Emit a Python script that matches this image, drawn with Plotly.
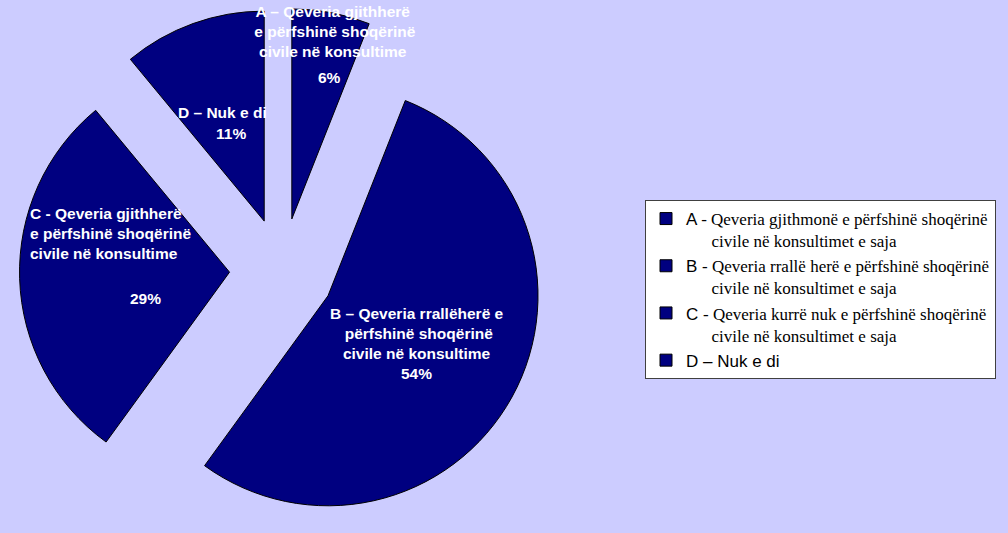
import plotly.graph_objects as go

# Survey answers: does the government include civil society in its consultations?
codes = ["A", "B", "C", "D"]
shares = [6, 54, 29, 11]
legend_names = [
    "A - Qeveria gjithmonë e përfshinë shoqërinë<br>civile në konsultimet e saja",
    "B - Qeveria rrallë herë e përfshinë shoqërinë<br>civile në konsultimet e saja",
    "C - Qeveria kurrë nuk e përfshinë shoqërinë<br>civile në konsultimet e saja",
    "D – Nuk e di",
]
slice_captions = [
    "A – Qeveria gjithherë<br> e përfshinë shoqërinë<br>civile në konsultime",
    "B – Qeveria rrallëherë e<br> përfshinë shoqërinë<br>civile në konsultime",
    "C - Qeveria gjithherë<br>e përfshinë shoqërinë<br>civile në konsultime",
    "D – Nuk e di",
]

W, H = 1008, 533
TOP = 8
NAVY = "#000080"
BG = "#CCCCFF"
SANS = "Liberation Sans"
SERIF = "Liberation Serif"
INDENT = "&nbsp;" * 6


def legend_label(text):
    # letter code in sans, description in serif, wrapped line indented
    head, rest = text.split(" ", 1)
    rest = rest.replace("<br>", "<br>" + INDENT)
    return f"<span style=\"font-family:'{SANS}'\">{head} </span>{rest}" if " - " in text else \
        f"<span style=\"font-family:'{SANS}'\">{text}</span>"


def px(x):
    return x / W


def py(y):
    return (H - y) / (H - TOP)


pie_cx = 282
half = (H - TOP) / 2

fig = go.Figure(
    go.Pie(
        labels=[legend_label(n) for n in legend_names],
        values=shares,
        sort=False,
        direction="clockwise",
        rotation=0,
        pull=[0.25] * len(shares),
        marker=dict(colors=[NAVY] * len(shares), line=dict(color="#000000", width=1)),
        textinfo="none",
        hoverinfo="skip",
        domain=dict(x=[px(pie_cx - half), px(pie_cx + half)], y=[0, 1]),
    )
)

# caption and percentage placement for each slice (pixel centres)
caption_pos = {"A": (333, 31), "B": (417, 333), "C": (110, 233), "D": (222, 113)}
pct_pos = {"A": (329, 77), "B": (416, 373), "C": (145, 298), "D": (231, 133)}
caption_align = {"A": "center", "B": "center", "C": "left", "D": "center"}

label_font = dict(family=SANS, size=15.5, color="white", weight="bold")
annotations = []
for code, cap, val in zip(codes, slice_captions, shares):
    cx, cy = caption_pos[code]
    annotations.append(dict(
        x=px(cx), y=py(cy), xref="paper", yref="paper", text=cap,
        showarrow=False, align=caption_align[code], font=label_font,
        xanchor="center", yanchor="middle",
    ))
    tx, ty = pct_pos[code]
    annotations.append(dict(
        x=px(tx), y=py(ty), xref="paper", yref="paper", text=f"{val}%",
        showarrow=False, font=label_font, xanchor="center", yanchor="middle",
    ))

fig.update_layout(
    width=W,
    height=H,
    margin=dict(l=0, r=0, t=TOP, b=0),
    paper_bgcolor=BG,
    plot_bgcolor=BG,
    annotations=annotations,
    showlegend=True,
    legend=dict(
        x=px(645), y=py(200), xanchor="left", yanchor="top",
        bgcolor="white", bordercolor="#404040", borderwidth=1,
        font=dict(family=SERIF, size=17, color="black"),
        valign="top", traceorder="normal",
    ),
)

fig.write_html("out.html")
